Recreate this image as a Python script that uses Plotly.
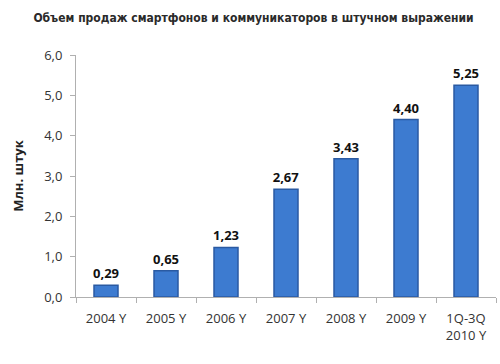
import plotly.graph_objects as go

categories = ["2004 Y", "2005 Y", "2006 Y", "2007 Y", "2008 Y", "2009 Y", "1Q-3Q<br>2010 Y"]
values = [0.29, 0.65, 1.23, 2.67, 3.43, 4.40, 5.25]
value_labels = ["0,29", "0,65", "1,23", "2,67", "3,43", "4,40", "5,25"]
y_ticks = [0, 1, 2, 3, 4, 5, 6]
y_tick_labels = ["0,0", "1,0", "2,0", "3,0", "4,0", "5,0", "6,0"]

fig = go.Figure(go.Bar(
    x=categories, y=values,
    text=value_labels, textposition="outside", constraintext="none",
    textfont=dict(family="Open Sans", size=13, color="#111111", weight="bold"),
    marker=dict(color="#3d7bd0", line=dict(color="#2a5aa2", width=1.5)),
    cliponaxis=False,
))

fig.update_layout(
    width=500, height=364,
    margin=dict(l=76, r=4, t=55, b=67),
    plot_bgcolor="white", paper_bgcolor="white",
    bargap=0.6,
    showlegend=False,
    title=dict(text="<b>Объем продаж смартфонов и коммуникаторов в штучном выражении</b>",
               x=0.507, xanchor="center", y=0.95, yanchor="middle",
               font=dict(family="DejaVu Sans Condensed", size=12, color="#2a2a2a")),
    font=dict(family="Open Sans", size=13, color="#333333"),
)
fig.update_xaxes(
    showline=True, linecolor="#b0b0b0", linewidth=1,
    ticks="outside", tickson="boundaries", ticklen=5, tickcolor="#b0b0b0",
    showgrid=False, tickfont=dict(size=13, color="#333333"),
    ticklabelstandoff=9,
)
fig.update_yaxes(
    range=[0, 6], tickvals=y_ticks, ticktext=y_tick_labels,
    showline=True, linecolor="#b0b0b0", linewidth=1,
    ticks="outside", ticklen=5, tickcolor="#b0b0b0",
    showgrid=False, zeroline=False,
    tickfont=dict(size=13, color="#333333"),
    ticklabelstandoff=5,
    title=dict(text="<b>Млн. штук</b>", font=dict(size=13, color="#222222"), standoff=17),
)

fig.write_html("out.html", config={"displayModeBar": False})
with open("out.html", encoding="utf-8") as f:
    html = f.read()
html = html.replace("<head>", "<head><style>html,body{margin:0;padding:0;}</style>", 1)
with open("out.html", "w", encoding="utf-8") as f:
    f.write(html)
